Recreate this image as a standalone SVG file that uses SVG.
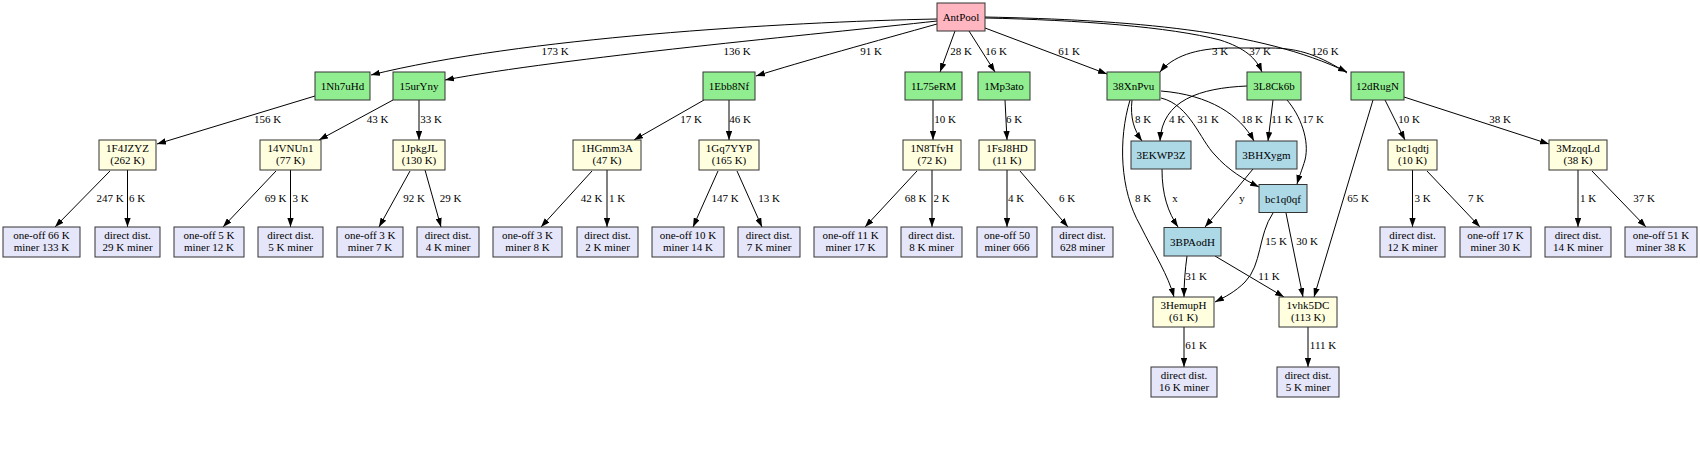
<svg xmlns="http://www.w3.org/2000/svg" width="1700" height="476" viewBox="0 0 1700 476">
<style>
text{font-family:"Liberation Serif","Times New Roman",serif;font-size:11px;fill:#000;text-anchor:middle}
.nd rect{stroke:#333;stroke-width:1}
.r rect{fill:#ffb6c1}.g rect{fill:#90ee90}.y rect{fill:#ffffe0}.l rect{fill:#e6e6fa}.b rect{fill:#add8e6}
#edges path{fill:none;stroke:#000;stroke-width:1;marker-end:url(#ah)}
</style>
<defs>
<marker id="ah" viewBox="0 0 10 7" refX="10" refY="3.5" markerWidth="9" markerHeight="6.3" markerUnits="userSpaceOnUse" orient="auto"><path d="M0,0L10,3.5L0,7z" fill="#000" stroke="none"/></marker>
</defs>
<rect width="1700" height="476" fill="#fff"/>
<g id="edges">
<path d="M937,19 C780,22 520,38 371,75"/>
<path d="M937,21 C820,34 560,58 445,80"/>
<path d="M937,24 C880,40 800,62 756,76"/>
<path d="M955,31 L940,72"/>
<path d="M969,31 L995,72"/>
<path d="M985,28 L1107,74"/>
<path d="M985,18 C1080,20 1170,27 1220,40 C1245,48 1256,58 1262,72"/>
<path d="M985,17 C1130,20 1260,30 1347,72"/>
<path d="M1347,73 C1320,56 1300,48 1270,48 L1230,48 C1195,48 1172,57 1160,72"/>
<path d="M315,96 L157,144"/>
<path d="M393,100 L319,140"/>
<path d="M419,100 L419,140"/>
<path d="M704,100 L634,140"/>
<path d="M729,100 L729,140"/>
<path d="M933,100 L933,140"/>
<path d="M1005,100 L1007,140"/>
<path d="M1132,100 C1130,118 1134,130 1142,141"/>
<path d="M1247,86 C1200,88 1162,100 1160,141"/>
<path d="M1161,91 C1210,95 1240,115 1254,141"/>
<path d="M1161,98 C1190,105 1200,140 1215,155 C1228,170 1245,180 1259,187"/>
<path d="M1273,100 L1268,141"/>
<path d="M1287,100 C1300,115 1310,140 1305,160 C1302,170 1299,177 1297,184"/>
<path d="M1385,100 L1405,140"/>
<path d="M1404,97 L1549,144"/>
<path d="M1373,100 L1314,297"/>
<path d="M1130,100 C1118,140 1120,190 1140,225 C1155,255 1168,275 1174,297"/>
<path d="M1162,169 C1162,195 1168,212 1178,227"/>
<path d="M1253,169 L1205,227"/>
<path d="M1273,213 C1258,235 1262,265 1245,282 C1235,292 1225,297 1215,302"/>
<path d="M1286,213 L1303,297"/>
<path d="M1187,256 C1185,270 1184,285 1184,297"/>
<path d="M1215,256 L1284,297"/>
<path d="M1184,327 L1184,367"/>
<path d="M1308,327 L1308,367"/>
<path d="M110,171 L55,227"/>
<path d="M127.5,170 L127.5,227"/>
<path d="M276,171 L223,227"/>
<path d="M290.5,170 L290.5,227"/>
<path d="M410,171 L379,227"/>
<path d="M425,170 L441,227"/>
<path d="M592,171 L541,227"/>
<path d="M607,170 L607,227"/>
<path d="M718,171 L693,227"/>
<path d="M737,171 L762,227"/>
<path d="M917,171 L865,227"/>
<path d="M932,170 L932,227"/>
<path d="M1007,170 L1007,227"/>
<path d="M1020,171 L1068,227"/>
<path d="M1412.5,170 L1412.5,227"/>
<path d="M1427,171 L1480,227"/>
<path d="M1578,170 L1578,227"/>
<path d="M1592,171 L1646,227"/>
<g id="edge-labels">
<text x="555" y="55">173 K</text>
<text x="737" y="55">136 K</text>
<text x="871" y="55">91 K</text>
<text x="961" y="55">28 K</text>
<text x="996" y="55">16 K</text>
<text x="1069" y="55">61 K</text>
<text x="1220" y="55">3 K</text>
<text x="1260" y="55">37 K</text>
<text x="1325" y="55">126 K</text>
<text x="267.5" y="123">156 K</text>
<text x="377.5" y="123">43 K</text>
<text x="431" y="123">33 K</text>
<text x="691" y="123">17 K</text>
<text x="740" y="123">46 K</text>
<text x="945" y="123">10 K</text>
<text x="1014" y="123">6 K</text>
<text x="1143" y="123">8 K</text>
<text x="1177" y="123">4 K</text>
<text x="1208" y="123">31 K</text>
<text x="1252" y="123">18 K</text>
<text x="1282" y="123">11 K</text>
<text x="1313" y="123">17 K</text>
<text x="1409" y="123">10 K</text>
<text x="1500" y="123">38 K</text>
<text x="1143" y="202">8 K</text>
<text x="1175" y="202">x</text>
<text x="1242" y="202">y</text>
<text x="1358" y="202">65 K</text>
<text x="1276" y="245">15 K</text>
<text x="1307" y="245">30 K</text>
<text x="1196" y="280">31 K</text>
<text x="1269" y="280">11 K</text>
<text x="1196" y="349">61 K</text>
<text x="1323" y="349">111 K</text>
<text x="110" y="202">247 K</text>
<text x="137" y="202">6 K</text>
<text x="275.5" y="202">69 K</text>
<text x="300.5" y="202">3 K</text>
<text x="414" y="202">92 K</text>
<text x="450.5" y="202">29 K</text>
<text x="591.5" y="202">42 K</text>
<text x="617" y="202">1 K</text>
<text x="725" y="202">147 K</text>
<text x="769" y="202">13 K</text>
<text x="915.5" y="202">68 K</text>
<text x="941.5" y="202">2 K</text>
<text x="1016" y="202">4 K</text>
<text x="1067" y="202">6 K</text>
<text x="1422.5" y="202">3 K</text>
<text x="1476" y="202">7 K</text>
<text x="1588" y="202">1 K</text>
<text x="1644" y="202">37 K</text>
</g>
</g>
<g id="n-antpool" class="nd r"><rect x="937" y="3" width="48" height="28"/><text x="961" y="21">AntPool</text></g>
<g id="n-1Nh7uHd" class="nd g"><rect x="315" y="72" width="55" height="28"/><text x="342.5" y="90">1Nh7uHd</text></g>
<g id="n-15urYny" class="nd g"><rect x="393" y="72" width="52" height="28"/><text x="419" y="90">15urYny</text></g>
<g id="n-1Ebb8Nf" class="nd g"><rect x="703" y="72" width="52" height="28"/><text x="729" y="90">1Ebb8Nf</text></g>
<g id="n-1L75eRM" class="nd g"><rect x="905" y="72" width="57" height="28"/><text x="933.5" y="90">1L75eRM</text></g>
<g id="n-1Mp3ato" class="nd g"><rect x="978" y="72" width="52" height="28"/><text x="1004" y="90">1Mp3ato</text></g>
<g id="n-38XnPvu" class="nd g"><rect x="1107" y="72" width="53" height="28"/><text x="1133.5" y="90">38XnPvu</text></g>
<g id="n-3L8Ck6b" class="nd g"><rect x="1247" y="72" width="54" height="28"/><text x="1274" y="90">3L8Ck6b</text></g>
<g id="n-12dRugN" class="nd g"><rect x="1351" y="72" width="53" height="28"/><text x="1377.5" y="90">12dRugN</text></g>
<g id="n-1F4JZYZ" class="nd y"><rect x="99" y="140" width="57" height="30"/><text x="127.5" y="152">1F4JZYZ</text><text x="127.5" y="164">(262 K)</text></g>
<g id="n-14VNUn1" class="nd y"><rect x="260" y="140" width="61" height="30"/><text x="290.5" y="152">14VNUn1</text><text x="290.5" y="164">(77 K)</text></g>
<g id="n-1JpkgJL" class="nd y"><rect x="393" y="140" width="52" height="30"/><text x="419" y="152">1JpkgJL</text><text x="419" y="164">(130 K)</text></g>
<g id="n-1HGmm3A" class="nd y"><rect x="573" y="140" width="68" height="30"/><text x="607" y="152">1HGmm3A</text><text x="607" y="164">(47 K)</text></g>
<g id="n-1Gq7YYP" class="nd y"><rect x="699" y="140" width="60" height="30"/><text x="729" y="152">1Gq7YYP</text><text x="729" y="164">(165 K)</text></g>
<g id="n-1N8TfvH" class="nd y"><rect x="903" y="140" width="58" height="30"/><text x="932" y="152">1N8TfvH</text><text x="932" y="164">(72 K)</text></g>
<g id="n-1FsJ8HD" class="nd y"><rect x="979" y="140" width="56" height="30"/><text x="1007" y="152">1FsJ8HD</text><text x="1007" y="164">(11 K)</text></g>
<g id="n-bc1qdtj" class="nd y"><rect x="1388" y="140" width="49" height="30"/><text x="1412.5" y="152">bc1qdtj</text><text x="1412.5" y="164">(10 K)</text></g>
<g id="n-3MzqqLd" class="nd y"><rect x="1549" y="140" width="58" height="30"/><text x="1578" y="152">3MzqqLd</text><text x="1578" y="164">(38 K)</text></g>
<g id="n-3EKWP3Z" class="nd b"><rect x="1131" y="141" width="60" height="28"/><text x="1161" y="159">3EKWP3Z</text></g>
<g id="n-3BHXygm" class="nd b"><rect x="1236" y="141" width="61" height="28"/><text x="1266.5" y="159">3BHXygm</text></g>
<g id="n-bc1q0qf" class="nd b"><rect x="1259" y="184.5" width="48" height="28"/><text x="1283" y="202.5">bc1q0qf</text></g>
<g id="n-3BPAodH" class="nd b"><rect x="1164" y="227.5" width="57" height="28.5"/><text x="1192.5" y="245.5">3BPAodH</text></g>
<g id="n-3HemupH" class="nd y"><rect x="1153" y="297" width="61" height="30"/><text x="1183.5" y="309">3HemupH</text><text x="1183.5" y="321">(61 K)</text></g>
<g id="n-1vhk5DC" class="nd y"><rect x="1279" y="297" width="58" height="30"/><text x="1308" y="309">1vhk5DC</text><text x="1308" y="321">(113 K)</text></g>
<g id="n-d16" class="nd l"><rect x="1151" y="367" width="66" height="30"/><text x="1184" y="379">direct dist.</text><text x="1184" y="391">16 K miner</text></g>
<g id="n-d5b" class="nd l"><rect x="1277" y="367" width="62" height="30"/><text x="1308" y="379">direct dist.</text><text x="1308" y="391">5 K miner</text></g>
<g id="n-a1" class="nd l"><rect x="3" y="227" width="77" height="30"/><text x="41.5" y="239">one-off 66 K</text><text x="41.5" y="251">miner 133 K</text></g>
<g id="n-a2" class="nd l"><rect x="95" y="227" width="65" height="30"/><text x="127.5" y="239">direct dist.</text><text x="127.5" y="251">29 K miner</text></g>
<g id="n-b1" class="nd l"><rect x="174" y="227" width="70" height="30"/><text x="209" y="239">one-off 5 K</text><text x="209" y="251">miner 12 K</text></g>
<g id="n-b2" class="nd l"><rect x="258" y="227" width="65" height="30"/><text x="290.5" y="239">direct dist.</text><text x="290.5" y="251">5 K miner</text></g>
<g id="n-c1" class="nd l"><rect x="337" y="227" width="66" height="30"/><text x="370" y="239">one-off 3 K</text><text x="370" y="251">miner 7 K</text></g>
<g id="n-c2" class="nd l"><rect x="417" y="227" width="62" height="30"/><text x="448" y="239">direct dist.</text><text x="448" y="251">4 K miner</text></g>
<g id="n-d1" class="nd l"><rect x="493" y="227" width="69" height="30"/><text x="527.5" y="239">one-off 3 K</text><text x="527.5" y="251">miner 8 K</text></g>
<g id="n-d2" class="nd l"><rect x="577" y="227" width="61" height="30"/><text x="607.5" y="239">direct dist.</text><text x="607.5" y="251">2 K miner</text></g>
<g id="n-e1" class="nd l"><rect x="652" y="227" width="72" height="30"/><text x="688" y="239">one-off 10 K</text><text x="688" y="251">miner 14 K</text></g>
<g id="n-e2" class="nd l"><rect x="738" y="227" width="62" height="30"/><text x="769" y="239">direct dist.</text><text x="769" y="251">7 K miner</text></g>
<g id="n-f1" class="nd l"><rect x="814" y="227" width="73" height="30"/><text x="850.5" y="239">one-off 11 K</text><text x="850.5" y="251">miner 17 K</text></g>
<g id="n-f2" class="nd l"><rect x="901" y="227" width="61" height="30"/><text x="931.5" y="239">direct dist.</text><text x="931.5" y="251">8 K miner</text></g>
<g id="n-g1" class="nd l"><rect x="977" y="227" width="60" height="30"/><text x="1007" y="239">one-off 50</text><text x="1007" y="251">miner 666</text></g>
<g id="n-g2" class="nd l"><rect x="1052" y="227" width="61" height="30"/><text x="1082.5" y="239">direct dist.</text><text x="1082.5" y="251">628 miner</text></g>
<g id="n-h1" class="nd l"><rect x="1380" y="227" width="65" height="30"/><text x="1412.5" y="239">direct dist.</text><text x="1412.5" y="251">12 K miner</text></g>
<g id="n-h2" class="nd l"><rect x="1460" y="227" width="71" height="30"/><text x="1495.5" y="239">one-off 17 K</text><text x="1495.5" y="251">miner 30 K</text></g>
<g id="n-i1" class="nd l"><rect x="1545" y="227" width="66" height="30"/><text x="1578" y="239">direct dist.</text><text x="1578" y="251">14 K miner</text></g>
<g id="n-i2" class="nd l"><rect x="1625" y="227" width="72" height="30"/><text x="1661" y="239">one-off 51 K</text><text x="1661" y="251">miner 38 K</text></g>
</svg>
